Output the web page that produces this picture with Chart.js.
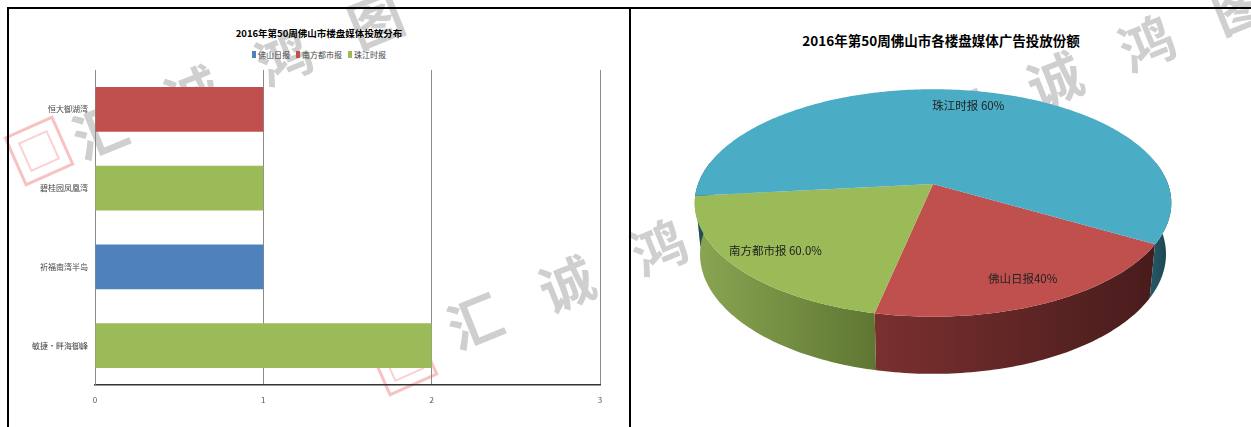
<!DOCTYPE html>
<html>
<head>
<meta charset="utf-8">
<script src="https://cdn.jsdelivr.net/npm/chart.js@4.4.1/dist/chart.umd.min.js"></script>
<style>
    body { margin: 0; width: 1251px; height: 427px; background: #fff; position: relative; overflow: hidden;
           font-family: "Noto Sans CJK SC", "Noto Sans", sans-serif; }
    .line { position: absolute; background: #000; }
    .panel { position: absolute; top: 9px; width: 620px; height: 418px; }
    .panel canvas { position: absolute; left: 0; top: 0; }
    .title { position: absolute; left: 0; width: 100%; text-align: center; font-weight: bold; color: #000; white-space: nowrap; }
    .legend { position: absolute; left: 0; width: 100%; display: flex; justify-content: center; gap: 6px; }
    .wm { position: absolute; color: rgba(160,160,160,.5); font-size: 54px; font-weight: bold; transform: rotate(-22deg); line-height: 1; }
    .stamp { position: absolute; width: 48px; height: 48px; border: 3px solid rgba(240,120,120,.45); transform: rotate(-24deg); }
    .stamp::after { content: ""; position: absolute; left: 8px; top: 8px; width: 28px; height: 28px; border: 2px solid rgba(240,120,120,.35); }
</style>
</head>
<body>

<!-- watermark sits under the charts -->
<div id="wm"></div>

<div class="line" style="left:7px;top:7px;width:1244px;height:2px"></div>
<div class="line" style="left:7px;top:7px;width:2px;height:420px"></div>
<div class="line" style="left:629px;top:7px;width:2px;height:420px"></div>

<div class="panel" style="left:9px">
    <div class="title" style="top:17px;font-size:9.5px">2016年第50周佛山市楼盘媒体投放分布</div>
    <div class="legend" id="legend-media" style="top:40px"></div>
    <canvas id="barChart" width="620" height="418"></canvas>
</div>

<div class="panel" style="left:631px">
    <div class="title" style="top:21px;font-size:13.5px">2016年第50周佛山市各楼盘媒体广告投放份额</div>
    <canvas id="pieChart" width="620" height="418"></canvas>
</div>

<script>
const PROJECTS  = ['恒大御湖湾', '碧桂园凤凰湾', '祈福南湾半岛', '敏捷·畔海御峰'];
const MEDIA     = ['佛山日报', '南方都市报', '珠江时报'];
const FOSHAN    = [0, 0, 1, 0];
const NANFANG   = [1, 0, 0, 0];
const ZHUJIANG  = [0, 1, 0, 2];
const BAR_COLORS = ['#4F81BD', '#C0504D', '#9BBB59'];
const X_MAX = 3;

const PIE_MEDIA  = ['佛山日报', '南方都市报', '珠江时报'];
const PIE_SHARE  = [20, 20, 60];
const PIE_LABELS = ['佛山日报40%', '南方都市报 60.0%', '珠江时报 60%'];
const PIE_COLORS = ['#C0504D', '#9BBB59', '#4BACC6'];
const PIE_SIDES  = [['#7a302f', '#481c1c'], ['#8aa652', '#5f7733'], ['#245563', '#17404b']];

const WATERMARK = '汇诚鸿图';

Chart.defaults.font.family = '"Noto Sans CJK SC", "Noto Sans", sans-serif';

function buildLegend(containerId, items) {
    const el = document.getElementById(containerId);
    el.innerHTML = items.map(i =>
        `<span style="display:flex;align-items:center;gap:2px;font-size:8px;color:#444">
            <span style="width:4px;height:7px;background:${i.color}"></span>${i.label}
         </span>`
    ).join('');
}

function buildWatermark() {
    const groups = [
        { x: 72,  y: 102, stamp: [12, 124] },
        { x: 447, y: 292, stamp: [376, 334] },
        { x: 935, y: 88,  stamp: null },
    ];
    const el = document.getElementById('wm');
    let html = '';
    groups.forEach(g => {
        [...WATERMARK].forEach((ch, i) => {
            html += `<span class="wm" style="left:${g.x + i * 92}px;top:${g.y - i * 37}px">${ch}</span>`;
        });
        if (g.stamp) html += `<div class="stamp" style="left:${g.stamp[0]}px;top:${g.stamp[1]}px"></div>`;
    });
    el.innerHTML = html;
}

function initBarChart() {
    const values = [FOSHAN, NANFANG, ZHUJIANG];
    buildLegend('legend-media', MEDIA.map((m, i) => ({ label: m, color: BAR_COLORS[i] })));

    new Chart(document.getElementById('barChart'), {
        type: 'bar',
        data: {
            labels: PROJECTS,
            datasets: MEDIA.map((m, i) => ({
                label: m,
                data: values[i],
                backgroundColor: BAR_COLORS[i],
                categoryPercentage: 1,
                barPercentage: 0.57,
            })),
        },
        options: {
            responsive: false,
            animation: false,
            indexAxis: 'y',
            layout: { padding: { top: 61, right: 29, left: 0, bottom: 0 } },
            plugins: { legend: { display: false }, tooltip: { enabled: false } },
            scales: {
                x: {
                    stacked: true, min: 0, max: X_MAX,
                    ticks: { stepSize: 1, color: '#555', font: { size: 8 }, padding: 10 },
                    grid: { color: '#8a8a8a', drawTicks: false },
                    border: { color: '#333', width: 1.5 },
                    afterFit: s => { s.height = 42; },
                },
                y: {
                    stacked: true,
                    ticks: { color: '#444', font: { size: 8 }, padding: 7 },
                    grid: { display: false, drawTicks: false },
                    border: { color: '#8a8a8a' },
                    afterFit: s => { s.width = 86; },
                },
            },
        },
    });
}

// tilted pie drawn from the arc angles Chart.js computed
const pie3d = {
    id: 'pie3d',
    beforeDatasetsDraw(chart, args, o) {
        const ctx = chart.ctx;
        const arcs = chart.getDatasetMeta(0).data;
        const cx = arcs[0].x, cy = arcs[0].y;
        const S = Math.sin(o.tilt), C = Math.cos(o.tilt);
        const proj = (t, r, h) => {
            const x = r * Math.cos(t), z = r * Math.sin(t);
            const yc = z * S + h * C, zc = z * C - h * S;
            const k = o.focal / (o.dist - zc);
            return [cx + x * k, cy + yc * k];
        };
        const step = Math.PI / 180;

        // outer walls, front half only
        arcs.forEach((a, i) => {
            for (let k = -1; k <= 1; k++) {
                const lo = Math.max(a.startAngle, -0.2 + k * 2 * Math.PI);
                const hi = Math.min(a.endAngle, Math.PI + 0.2 + k * 2 * Math.PI);
                if (hi <= lo) continue;
                const top = [], bot = [];
                for (let t = lo; t < hi; t += step) { top.push(proj(t, 1, 0)); bot.push(proj(t, 1, o.depth)); }
                top.push(proj(hi, 1, 0)); bot.push(proj(hi, 1, o.depth));
                const xs = top.map(p => p[0]);
                const g = ctx.createLinearGradient(Math.min(...xs), 0, Math.max(...xs), 0);
                g.addColorStop(0, PIE_SIDES[i][0]);
                g.addColorStop(1, PIE_SIDES[i][1]);
                ctx.beginPath();
                top.forEach((p, j) => j ? ctx.lineTo(p[0], p[1]) : ctx.moveTo(p[0], p[1]));
                bot.reverse().forEach(p => ctx.lineTo(p[0], p[1]));
                ctx.closePath();
                ctx.fillStyle = g;
                ctx.fill();
            }
        });

        // top faces
        arcs.forEach((a, i) => {
            const c0 = proj(0, 0, 0);
            ctx.beginPath();
            ctx.moveTo(c0[0], c0[1]);
            for (let t = a.startAngle; t < a.endAngle; t += step) {
                const p = proj(t, 1, 0);
                ctx.lineTo(p[0], p[1]);
            }
            const e = proj(a.endAngle, 1, 0);
            ctx.lineTo(e[0], e[1]);
            ctx.closePath();
            ctx.fillStyle = PIE_COLORS[i];
            ctx.fill();
        });

        // data labels
        ctx.font = '11.5px "Noto Sans CJK SC", sans-serif';
        ctx.fillStyle = '#222';
        ctx.textAlign = 'center';
        ctx.textBaseline = 'middle';
        arcs.forEach((a, i) => {
            const mid = (a.startAngle + a.endAngle) / 2;
            const p = proj(mid, o.labelRadius, 0);
            ctx.fillText(PIE_LABELS[i], p[0], p[1]);
        });
        return false;
    },
};

function initPieChart() {
    new Chart(document.getElementById('pieChart'), {
        type: 'pie',
        data: {
            labels: PIE_MEDIA,
            datasets: [{ data: PIE_SHARE, backgroundColor: PIE_COLORS, borderWidth: 0 }],
        },
        options: {
            responsive: false,
            animation: false,
            rotation: 120,
            layout: { padding: { left: 0, right: 16, top: 0, bottom: 68 } },
            plugins: {
                legend: { display: false },
                tooltip: { enabled: false },
                pie3d: { tilt: 0.49, dist: 5.29, focal: 1243, depth: 0.25, labelRadius: 0.82 },
            },
        },
        plugins: [pie3d],
    });
}

buildWatermark();
initBarChart();
initPieChart();
</script>
</body>
</html>
